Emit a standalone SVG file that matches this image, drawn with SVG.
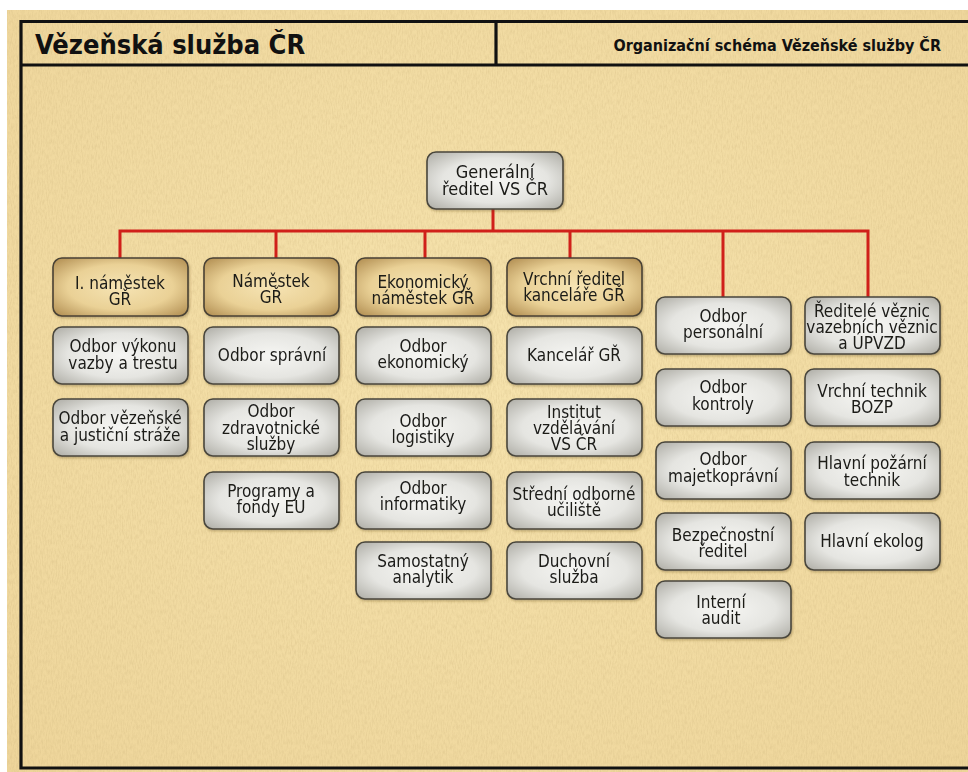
<svg xmlns="http://www.w3.org/2000/svg" width="968" height="772" viewBox="0 0 968 772">
<defs>
<style>
.t{font-family:"DejaVu Sans Condensed","DejaVu Sans",sans-serif;font-stretch:condensed;font-size:17px;fill:#1a1a18;text-anchor:middle}
.r{font-size:18px}
.g{fill:url(#gray);stroke:#4a463c;stroke-width:1.6}
.k{fill:url(#tan);stroke:#4a4234;stroke-width:1.6}
.c{stroke:#d0201a;stroke-width:3;fill:none}
.f{stroke:#111;stroke-width:3.2;fill:none}
</style>
<radialGradient id="gray" cx="50%" cy="50%" r="65%">
<stop offset="0" stop-color="#f6f6f3"/>
<stop offset="0.6" stop-color="#e5e5e1"/>
<stop offset="1" stop-color="#b6b5ae"/>
</radialGradient>
<radialGradient id="tan" cx="50%" cy="50%" r="65%">
<stop offset="0" stop-color="#f6e4b4"/>
<stop offset="0.6" stop-color="#ead196"/>
<stop offset="1" stop-color="#b8965a"/>
</radialGradient>
<radialGradient id="bg" cx="50%" cy="45%" r="75%">
<stop offset="0" stop-color="#f6e3ad"/>
<stop offset="1" stop-color="#eed59a"/>
</radialGradient>
<filter id="noise" x="0" y="0" width="100%" height="100%">
<feTurbulence type="fractalNoise" baseFrequency="0.8 0.2" numOctaves="3" seed="7"/>
<feColorMatrix values="0 0 0 0 0.6  0 0 0 0 0.45  0 0 0 0 0.2  0 0 0 -1.4 0.9"/>
<feComposite in2="SourceGraphic" operator="in"/>
</filter>
<filter id="sh" x="-10%" y="-10%" width="125%" height="130%">
<feDropShadow dx="1" dy="1.5" stdDeviation="1.2" flood-color="#5a4320" flood-opacity="0.35"/>
</filter>
</defs>

<rect width="968" height="772" fill="#ffffff"/>
<rect x="7" y="10" width="961" height="762" fill="url(#bg)"/>
<rect x="7" y="10" width="961" height="762" fill="#000" filter="url(#noise)" opacity="0.4"/>

<g id="frame">
<path class="f" d="M968 21.5H21V768H968"/>
<path class="f" d="M21 65H968"/>
<path class="f" d="M496 21.5V65"/>
<text x="35" y="54" font-family="DejaVu Sans Condensed, DejaVu Sans, sans-serif" font-stretch="condensed" font-weight="bold" font-size="27" fill="#111">Vězeňská služba ČR</text>
<text x="941" y="51" text-anchor="end" font-family="DejaVu Sans Condensed, DejaVu Sans, sans-serif" font-stretch="condensed" font-weight="bold" font-size="16" fill="#111">Organizační schéma Vězeňské služby ČR</text>
</g>

<g id="connectors">
<path class="c" d="M493 209V231"/>
<path class="c" d="M120 258V231H868V297"/>
<path class="c" d="M276 231V258"/>
<path class="c" d="M425 231V258"/>
<path class="c" d="M570 231V259"/>
<path class="c" d="M723 231V297"/>
</g>

<g filter="url(#sh)">
<g id="n-root"><rect class="g" x="427" y="152" width="136" height="57" rx="9"/><text class="t r" x="495" y="178">Generální</text><text class="t r" x="495" y="195">ředitel VS ČR</text></g>

<g id="n-c1-0"><rect class="k" x="53" y="258" width="135" height="58" rx="9"/><text class="t" x="120" y="289">I. náměstek</text><text class="t" x="120" y="305">GŘ</text></g>
<g id="n-c2-0"><rect class="k" x="204" y="258" width="135" height="58" rx="9"/><text class="t" x="271" y="287">Náměstek</text><text class="t" x="271" y="303">GŘ</text></g>
<g id="n-c3-0"><rect class="k" x="356" y="258" width="135" height="58" rx="9"/><text class="t" x="423" y="288">Ekonomický</text><text class="t" x="423" y="304">náměstek GŘ</text></g>
<g id="n-c4-0"><rect class="k" x="507" y="258" width="135" height="58" rx="9"/><text class="t" x="574" y="285">Vrchní ředitel</text><text class="t" x="574" y="301">kanceláře GŘ</text></g>

<g id="n-c1-1"><rect class="g" x="53" y="327" width="135" height="57" rx="9"/><text class="t" x="123" y="352">Odbor výkonu</text><text class="t" x="123" y="369">vazby a trestu</text></g>
<g id="n-c1-2"><rect class="g" x="53" y="399" width="135" height="57" rx="9"/><text class="t" x="120" y="424">Odbor vězeňské</text><text class="t" x="120" y="441">a justiční stráže</text></g>

<g id="n-c2-1"><rect class="g" x="204" y="327" width="135" height="57" rx="9"/><text class="t" x="272" y="361">Odbor správní</text></g>
<g id="n-c2-2"><rect class="g" x="204" y="399" width="135" height="57" rx="9"/><text class="t" x="271" y="417">Odbor</text><text class="t" x="271" y="434">zdravotnické</text><text class="t" x="271" y="450">služby</text></g>
<g id="n-c2-3"><rect class="g" x="204" y="472" width="135" height="57" rx="9"/><text class="t" x="271" y="497">Programy a</text><text class="t" x="271" y="513">fondy EU</text></g>

<g id="n-c3-1"><rect class="g" x="356" y="327" width="135" height="57" rx="9"/><text class="t" x="423" y="352">Odbor</text><text class="t" x="423" y="368">ekonomický</text></g>
<g id="n-c3-2"><rect class="g" x="356" y="399" width="135" height="57" rx="9"/><text class="t" x="423" y="427">Odbor</text><text class="t" x="423" y="443">logistiky</text></g>
<g id="n-c3-3"><rect class="g" x="356" y="472" width="135" height="57" rx="9"/><text class="t" x="423" y="494">Odbor</text><text class="t" x="423" y="510">informatiky</text></g>
<g id="n-c3-4"><rect class="g" x="356" y="542" width="135" height="57" rx="9"/><text class="t" x="423" y="567">Samostatný</text><text class="t" x="423" y="583">analytik</text></g>

<g id="n-c4-1"><rect class="g" x="507" y="327" width="135" height="57" rx="9"/><text class="t" x="574" y="361">Kancelář GŘ</text></g>
<g id="n-c4-2"><rect class="g" x="507" y="399" width="135" height="57" rx="9"/><text class="t" x="574" y="418">Institut</text><text class="t" x="574" y="434">vzdělávání</text><text class="t" x="574" y="450">VS ČR</text></g>
<g id="n-c4-3"><rect class="g" x="507" y="472" width="135" height="57" rx="9"/><text class="t" x="574" y="500">Střední odborné</text><text class="t" x="574" y="516">učiliště</text></g>
<g id="n-c4-4"><rect class="g" x="507" y="542" width="135" height="57" rx="9"/><text class="t" x="574" y="567">Duchovní</text><text class="t" x="574" y="583">služba</text></g>

<g id="n-c5-0"><rect class="g" x="656" y="297" width="135" height="57" rx="9"/><text class="t" x="723" y="322">Odbor</text><text class="t" x="723" y="338">personální</text></g>
<g id="n-c5-1"><rect class="g" x="656" y="369" width="135" height="57" rx="9"/><text class="t" x="723" y="393">Odbor</text><text class="t" x="723" y="410">kontroly</text></g>
<g id="n-c5-2"><rect class="g" x="656" y="442" width="135" height="57" rx="9"/><text class="t" x="723" y="465">Odbor</text><text class="t" x="723" y="482">majetkoprávní</text></g>
<g id="n-c5-3"><rect class="g" x="656" y="513" width="135" height="57" rx="9"/><text class="t" x="723" y="541">Bezpečnostní</text><text class="t" x="723" y="557">ředitel</text></g>
<g id="n-c5-4"><rect class="g" x="656" y="581" width="135" height="57" rx="9"/><text class="t" x="721" y="608">Interní</text><text class="t" x="721" y="624">audit</text></g>

<g id="n-c6-0"><rect class="g" x="805" y="297" width="135" height="57" rx="9"/><text class="t" x="872" y="317">Ředitelé věznic</text><text class="t" x="872" y="333">vazebních věznic</text><text class="t" x="872" y="349">a ÚPVZD</text></g>
<g id="n-c6-1"><rect class="g" x="805" y="369" width="135" height="57" rx="9"/><text class="t" x="872" y="397">Vrchní technik</text><text class="t" x="872" y="413">BOZP</text></g>
<g id="n-c6-2"><rect class="g" x="805" y="442" width="135" height="57" rx="9"/><text class="t" x="872" y="469">Hlavní požární</text><text class="t" x="872" y="486">technik</text></g>
<g id="n-c6-3"><rect class="g" x="805" y="513" width="135" height="57" rx="9"/><text class="t" x="872" y="547">Hlavní ekolog</text></g>
</g>
</svg>
